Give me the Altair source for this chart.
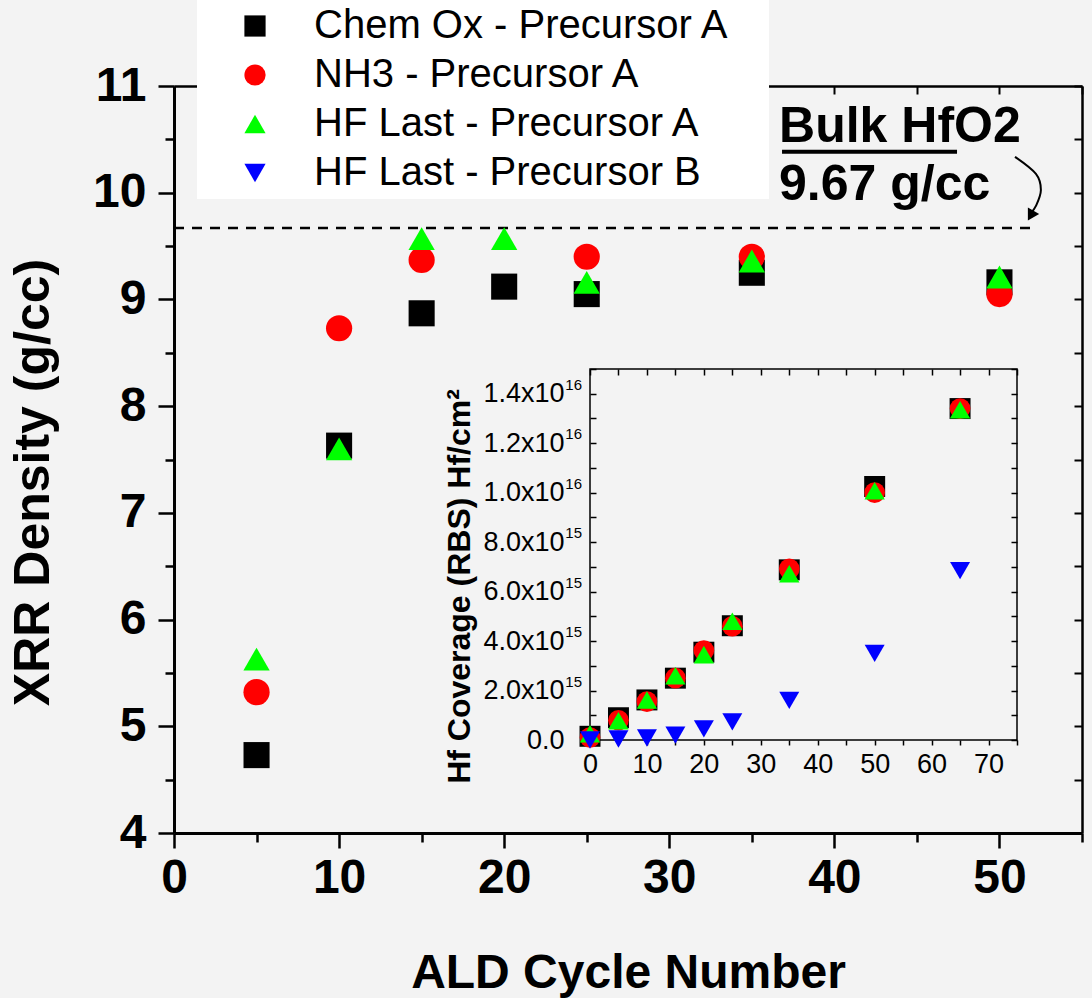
import altair as alt
import pandas as pd

FONT = "Liberation Sans"

# ---------------- data ----------------
SERIES = ["Chem Ox - Precursor A", "NH3 - Precursor A",
          "HF Last - Precursor A", "HF Last - Precursor B"]
COLORS = ["#000000", "#ff0000", "#00ff00", "#0000ff"]
SHAPES = ["square", "circle", "triangle-up", "triangle-down"]
MAIN_SIZES = [680, 700, 1225, 900]
INSET_SIZES = [440, 400, 760, 600]

# main panel: XRR density vs ALD cycles
chem_cycles = [5, 10, 15, 20, 25, 35, 50]
chem_density = [4.73, 7.63, 8.87, 9.12, 9.05, 9.25, 9.16]
nh3_cycles = [5, 10, 15, 25, 35, 50]
nh3_density = [5.32, 8.73, 9.37, 9.40, 9.40, 9.05]
hfa_cycles = [5, 10, 15, 20, 25, 35, 50]
hfa_density = [5.63, 7.60, 9.57, 9.57, 9.16, 9.36, 9.21]

# inset: Hf coverage (RBS) vs ALD cycles
inset_cycles = [0, 5, 10, 15, 20, 25, 35, 50, 65]
chem_cov = [0.15e15, 0.90e15, 1.62e15, 2.50e15, 3.55e15, 4.62e15, 6.88e15, 10.25e15, 13.40e15]
nh3_cov = [0.10e15, 0.80e15, 1.55e15, 2.50e15, 3.62e15, 4.60e15, 6.92e15, 10.00e15, 13.40e15]
hfa_cov = [0.25e15, 0.78e15, 1.62e15, 2.60e15, 3.45e15, 4.80e15, 6.72e15, 10.08e15, 13.35e15]
hfb_cov = [0.00e15, 0.04e15, 0.08e15, 0.20e15, 0.45e15, 0.73e15, 1.60e15, 3.50e15, 6.85e15]

# axis ticks
main_x_major = [0, 10, 20, 30, 40, 50]
main_x_minor = [5, 15, 25, 35, 45, 55]
main_x_all = [0, 5, 10, 15, 20, 25, 30, 35, 40, 45, 50, 55]
main_y_major = [4, 5, 6, 7, 8, 9, 10, 11]
main_y_minor = [4.5, 5.5, 6.5, 7.5, 8.5, 9.5, 10.5]
main_y_all = [4, 4.5, 5, 5.5, 6, 6.5, 7, 7.5, 8, 8.5, 9, 9.5, 10, 10.5, 11]
inset_x_ticks = [0, 5, 10, 15, 20, 25, 30, 35, 40, 45, 50, 55, 60, 65, 70, 75]
inset_y_ticks = [0, 1e15, 2e15, 3e15, 4e15, 5e15, 6e15, 7e15, 8e15, 9e15,
                 10e15, 11e15, 12e15, 13e15, 14e15, 15e15]
inset_exp_values = [2e15, 4e15, 6e15, 8e15, 10e15, 12e15, 14e15]
inset_exp_text = ["15", "15", "15", "15", "16", "16", "16"]

# annotation (bulk HfO2 reference density)
bulk_density = [9.67]
bulk_line_x = [0, 52]
annot_text = ["Bulk HfO2", "9.67 g/cc"]
annot_x = [36.65, 36.65]
annot_y = [10.476, 9.93]
underline_x = [36.83, 47.43]
underline_y = [10.383]
arrow_x = [50.94, 52.21, 52.51, 52.21, 51.85]
arrow_y = [10.336, 10.176, 10.026, 9.876, 9.80]
arrow_head = [51.95, 9.80]

# ---------------- tables ----------------
main_rows = []
for name, xs, ys in [(SERIES[0], chem_cycles, chem_density),
                     (SERIES[1], nh3_cycles, nh3_density),
                     (SERIES[2], hfa_cycles, hfa_density)]:
    for a, b in zip(xs, ys):
        main_rows.append({"cycle": a, "value": b, "series": name})
main_df = pd.DataFrame(main_rows)

inset_rows = []
for name, ys in zip(SERIES, [chem_cov, nh3_cov, hfa_cov, hfb_cov]):
    for a, b in zip(inset_cycles, ys):
        inset_rows.append({"cycle": a, "value": b, "series": name})
inset_df = pd.DataFrame(inset_rows)

dummy_main = pd.DataFrame({"cycle": [20], "value": [6]})
dummy_inset = pd.DataFrame({"cycle": [20], "value": [5e15]})

# ---------------- scales ----------------
def mx():
    return alt.Scale(domain=[0, 55], nice=False, zero=False)

def my():
    return alt.Scale(domain=[4, 11], nice=False, zero=False)

def ix():
    return alt.Scale(domain=[0, 75], nice=False, zero=False, range=[416, 843])

def iy():
    return alt.Scale(domain=[0, 1.5e16], nice=False, zero=False, range=[654, 283])

AX = dict(grid=False, domainColor="black", tickColor="black", labelColor="black",
          labelFont=FONT, titleFont=FONT, titleColor="black")

PAD = "\u00a0" * 3 + "\u200b"
legend = alt.Legend(
    orient="none", legendX=23, legendY=-86, title=None, fillColor="white",
    padding=6, labelFont=FONT, labelFontSize=40, labelColor="black", labelLimit=0,
    symbolSize=450, symbolOffset=32, labelOffset=39, rowPadding=9,
    symbolStrokeWidth=0, labelExpr="datum.label + '" + PAD + "'",
)

color_enc = alt.Color("series:N", scale=alt.Scale(domain=SERIES, range=COLORS), legend=legend)
shape_enc = alt.Shape("series:N", scale=alt.Scale(domain=SERIES, range=SHAPES), legend=legend)

# ---------------- main panel ----------------
main_points = alt.Chart(main_df).mark_point(filled=True, opacity=1, strokeWidth=0).encode(
    x=alt.X("cycle:Q", scale=mx(), axis=alt.Axis(
        orient="bottom", values=main_x_major, tickSize=15, tickWidth=2.5, domainWidth=3,
        labelFontSize=48, labelFontWeight="bold", labelPadding=6, labelFlush=False,
        labelOverlap=False, title="ALD Cycle Number", titleFontSize=48,
        titleFontWeight="bold", titleY=154, titleBaseline="alphabetic", **AX)),
    y=alt.Y("value:Q", scale=my(), axis=alt.Axis(
        orient="left", values=main_y_major, tickSize=16, tickWidth=2.5, domainWidth=3,
        labelFontSize=48, labelFontWeight="bold", labelPadding=12, labelFlush=False,
        labelOverlap=False, title="XRR Density (g/cc)", titleFontSize=50,
        titleFontWeight="bold", titleX=-141, titleY=396, titleBaseline="middle", **AX)),
    color=color_enc,
    shape=shape_enc,
    size=alt.Size("series:N", scale=alt.Scale(domain=SERIES, range=MAIN_SIZES), legend=None),
)

minor_axes = alt.Chart(dummy_main).mark_point(opacity=0).encode(
    x=alt.X("cycle:Q", scale=mx(), axis=alt.Axis(
        orient="bottom", values=main_x_minor, tickSize=9, tickWidth=2.5, domain=False,
        labels=False, title=None, **AX)),
    y=alt.Y("value:Q", scale=my(), axis=alt.Axis(
        orient="left", values=main_y_minor, tickSize=9, tickWidth=2.5, domain=False,
        labels=False, title=None, **AX)),
)

inner_axes = alt.Chart(dummy_main).mark_point(opacity=0).encode(
    x=alt.X("cycle:Q", scale=mx(), axis=alt.Axis(
        orient="top", offset=-8, values=main_x_all, tickSize=8, tickWidth=2, domain=False,
        labels=False, title=None, **AX)),
    y=alt.Y("value:Q", scale=my(), axis=alt.Axis(
        orient="right", offset=-8, values=main_y_all, tickSize=8, tickWidth=2, domain=False,
        labels=False, title=None, **AX)),
)

frame_axes = alt.Chart(dummy_main).mark_point(opacity=0).encode(
    x=alt.X("cycle:Q", scale=mx(), axis=alt.Axis(
        orient="top", ticks=False, labels=False, domainWidth=2.5, title=None, **AX)),
    y=alt.Y("value:Q", scale=my(), axis=alt.Axis(
        orient="right", ticks=False, labels=False, domainWidth=2.5, title=None, **AX)),
)

bulk_df = pd.DataFrame({"x": [bulk_line_x[0]], "x2": [bulk_line_x[1]], "y": bulk_density})
bulk_line = alt.Chart(bulk_df).mark_rule(color="black", strokeWidth=2.5, strokeDash=[10, 8]).encode(
    x=alt.X("x:Q", scale=mx(), axis=None), x2="x2:Q",
    y=alt.Y("y:Q", scale=my(), axis=None),
)

text_df = pd.DataFrame({"x": annot_x, "y": annot_y, "t": annot_text})
annot = alt.Chart(text_df).mark_text(
    font=FONT, fontSize=50, fontWeight="bold", align="left", baseline="alphabetic", color="black"
).encode(
    x=alt.X("x:Q", scale=mx(), axis=None),
    y=alt.Y("y:Q", scale=my(), axis=None),
    text="t:N",
)

ul_df = pd.DataFrame({"x": [underline_x[0]], "x2": [underline_x[1]], "y": underline_y})
underline = alt.Chart(ul_df).mark_rule(color="black", strokeWidth=4).encode(
    x=alt.X("x:Q", scale=mx(), axis=None), x2="x2:Q",
    y=alt.Y("y:Q", scale=my(), axis=None),
)

arrow_df = pd.DataFrame({"x": arrow_x, "y": arrow_y, "i": list(range(len(arrow_x)))})
arrow = alt.Chart(arrow_df).mark_line(color="black", strokeWidth=2, interpolate="cardinal").encode(
    x=alt.X("x:Q", scale=mx(), axis=None),
    y=alt.Y("y:Q", scale=my(), axis=None),
    order=alt.Order("i:Q"),
)
head_df = pd.DataFrame({"x": [arrow_head[0]], "y": [arrow_head[1]]})
head = alt.Chart(head_df).mark_point(shape="triangle", filled=True, size=170, angle=210,
                                     color="black", opacity=1).encode(
    x=alt.X("x:Q", scale=mx(), axis=None),
    y=alt.Y("y:Q", scale=my(), axis=None),
)

# ---------------- inset ----------------
frame_df = pd.DataFrame({"x": [0], "x2": [75], "y": [0], "y2": [1.5e16]})
inset_frame = alt.Chart(frame_df).mark_rect(fill="transparent", stroke="black", strokeWidth=1.5).encode(
    x=alt.X("x:Q", scale=ix(), axis=None), x2="x2:Q",
    y=alt.Y("y:Q", scale=iy(), axis=None), y2="y2:Q",
)

inset_label_expr = ("datum.value == 0 ? '0.0' : (round(datum.value / 1e15) % 2 == 0 ? "
                    "format(datum.value >= 1e16 ? datum.value / 1e16 : datum.value / 1e15, '.1f') "
                    "+ 'x10' : '')")

inset_points = alt.Chart(inset_df).mark_point(filled=True, opacity=1, strokeWidth=0).encode(
    x=alt.X("cycle:Q", scale=ix(), axis=alt.Axis(
        orient="bottom", offset=-93, values=inset_x_ticks, tickSize=5, tickWidth=1.5,
        domain=False, labelFontSize=27, labelPadding=6, labelFlush=False, labelOverlap=False,
        labelExpr="datum.value % 10 == 0 ? datum.label : ''", title=None, **AX)),
    y=alt.Y("value:Q", scale=iy(), axis=alt.Axis(
        orient="left", offset=-422, values=inset_y_ticks, tickSize=6, tickWidth=1.5,
        domain=False, labelFontSize=27, labelPadding=26, labelFlush=False, labelOverlap=False,
        labelExpr=inset_label_expr, title="Hf Coverage (RBS) Hf/cm\u00b2", titleFontSize=32,
        titleFontWeight="bold", titleX=-137, titleY=500, titleBaseline="middle", **AX)),
    color=color_enc,
    shape=shape_enc,
    size=alt.Size("series:N", scale=alt.Scale(domain=SERIES, range=INSET_SIZES), legend=None),
)

inset_inner = alt.Chart(dummy_inset).mark_point(opacity=0).encode(
    x=alt.X("cycle:Q", scale=ix(), axis=alt.Axis(
        orient="top", offset=-289, values=inset_x_ticks, tickSize=6, tickWidth=1.5,
        domain=False, labels=False, title=None, **AX)),
    y=alt.Y("value:Q", scale=iy(), axis=alt.Axis(
        orient="right", offset=-71, values=inset_y_ticks, tickSize=6, tickWidth=1.5,
        domain=False, labels=False, title=None, **AX)),
)

exp_df = pd.DataFrame({"v": inset_exp_values, "t": inset_exp_text})
inset_exp = alt.Chart(exp_df).mark_text(
    font=FONT, fontSize=15, align="right", baseline="middle", dy=-9, color="black"
).encode(
    x=alt.value(408),
    y=alt.Y("v:Q", scale=iy(), axis=None),
    text="t:N",
)

chart = alt.layer(
    inner_axes, frame_axes, minor_axes,
    bulk_line, underline, annot, arrow, head,
    main_points,
    inset_frame, inset_inner, inset_points, inset_exp,
).resolve_scale(
    x="independent", y="independent", size="independent"
).resolve_axis(
    x="independent", y="independent"
).properties(
    width=908, height=747,
    padding={"left": 174, "top": 86, "right": 10, "bottom": 165},
    autosize=alt.AutoSizeParams(type="none"),
).configure(
    background="#f3f3f3", font=FONT
).configure_view(strokeWidth=0)

chart.save("out.html", embed_options={"renderer": "svg", "actions": False})
